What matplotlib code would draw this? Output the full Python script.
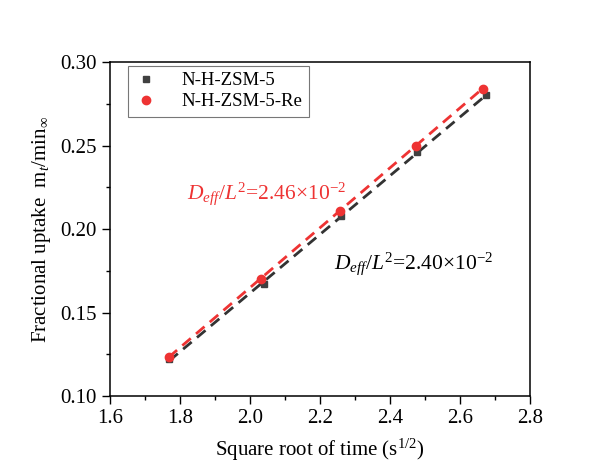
import numpy as np
import matplotlib.pyplot as plt

plt.rcParams['font.family'] = ['Liberation Serif', 'DejaVu Serif']
plt.rcParams['mathtext.fontset'] = 'custom'
plt.rcParams['mathtext.rm'] = 'Liberation Serif'
plt.rcParams['mathtext.it'] = 'Liberation Serif:italic'

# data
t_black = [1.770, 2.040, 2.262, 2.478, 2.675]
y_black = [0.122, 0.167, 0.208, 0.246, 0.280]
t_red = [1.768, 2.032, 2.257, 2.474, 2.665]
y_red = [0.1235, 0.170, 0.211, 0.250, 0.284]

fig = plt.figure(figsize=(6, 4.66), dpi=100)
ax = fig.add_axes([0.183, 0.150, 0.700, 0.717])

# linear fits
for t, y, c in [(t_black, y_black, '#333333'), (t_red, y_red, '#ee3333')]:
    k, b = np.polyfit(t, y, 1)
    xx = np.array([t[0], t[-1]])
    ax.plot(xx, k * xx + b, ls=(0, (4, 2.5)), color=c, lw=2)

ax.plot(t_black, y_black, 's', color='#404040', ms=5, label='N-H-ZSM-5')
ax.plot(t_red, y_red, 'o', color='#ee3333', ms=6, label='N-H-ZSM-5-Re')

ax.set_xlim(1.6, 2.8)
ax.set_ylim(0.10, 0.30)
ax.set_xticks(np.arange(1.6, 2.81, 0.2))
ax.set_xticks(np.arange(1.7, 2.8, 0.2), minor=True)
ax.set_yticks(np.arange(0.10, 0.301, 0.05))
ax.set_yticks(np.arange(0.125, 0.3, 0.05), minor=True)
ax.xaxis.set_major_formatter(plt.FormatStrFormatter('%.1f'))
ax.yaxis.set_major_formatter(plt.FormatStrFormatter('%.2f'))
ax.tick_params(which='major', direction='out', length=6, width=1, labelsize=15)
ax.tick_params(which='minor', direction='out', length=3, width=1)
for s in ax.spines.values():
    s.set_linewidth(1.1)

ax.set_xlabel('Square root of time (s$^{1/2}$)', fontsize=15, labelpad=6)
ax.set_ylabel(r'Fractional uptake  m$_t$/min$_\infty$', fontsize=15, labelpad=5)

ax.text(1.822, 0.218, r'$D_{eff}/L^2$=2.46$\times$10$^{-2}$', color='#ee3333', fontsize=15.5)
ax.text(2.24, 0.176, r'$D_{eff}/L^2$=2.40$\times$10$^{-2}$', color='black', fontsize=15.5)

leg = ax.legend(loc='upper left', bbox_to_anchor=(0.035, 1.0), fontsize=13.5,
                fancybox=False, edgecolor='#555555', borderaxespad=0.2,
                handlelength=1.2, handletextpad=1.3, labelspacing=0.2, borderpad=0.35)
leg.get_frame().set_linewidth(0.8)

fig.savefig('out.png', dpi=100)
